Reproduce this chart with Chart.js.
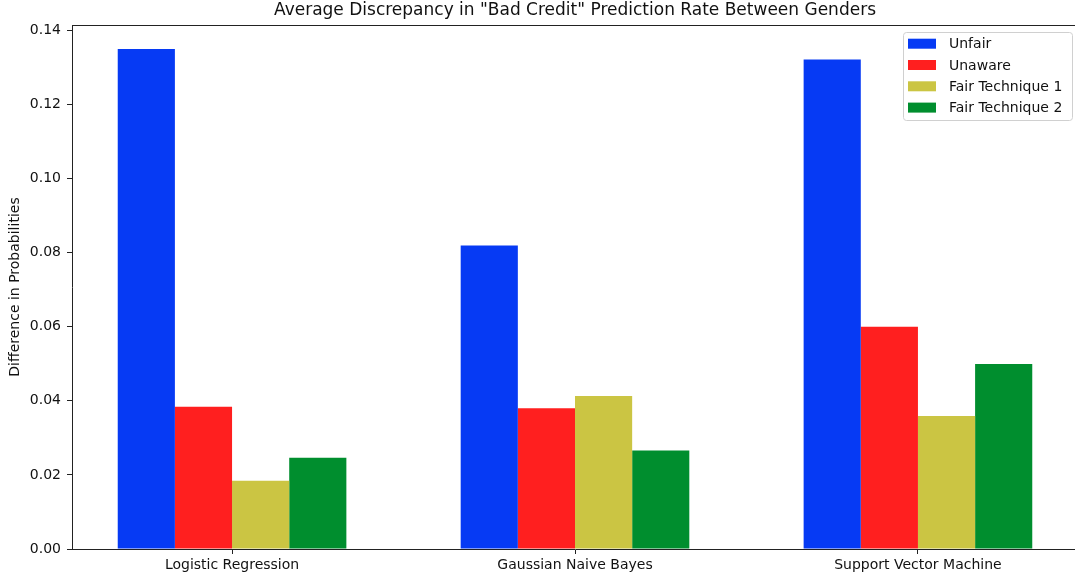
<!DOCTYPE html>
<html>
<head>
<meta charset="utf-8">
<script src="https://cdn.jsdelivr.net/npm/chart.js@4.4.1/dist/chart.umd.min.js"></script>
<style>
  html, body { margin: 0; padding: 0; background: #fff; overflow: hidden; }
  #wrap { position: relative; width: 1080px; height: 581px; }
</style>
</head>
<body>
<div id="wrap"><canvas id="chart"></canvas></div>
<script>
// data
const categories = ["Logistic Regression", "Gaussian Naive Bayes", "Support Vector Machine"];
const seriesNames = ["Unfair", "Unaware", "Fair Technique 1", "Fair Technique 2"];
const unfair   = [0.1349, 0.0819, 0.1321];
const unaware  = [0.0384, 0.0380, 0.0600];
const fairTech1 = [0.0184, 0.0413, 0.0359];
const fairTech2 = [0.0246, 0.0266, 0.0499];
const yTicks = [0, 0.02, 0.04, 0.06, 0.08, 0.10, 0.12, 0.14];
const titleText = 'Average Discrepancy in "Bad Credit" Prediction Rate Between Genders';

const colors = ["#063af4", "#ff1f1f", "#cbc543", "#008e2e"];
const FONT = "'DejaVu Sans', sans-serif";

const toPts = arr => arr.map((v, i) => ({ x: i, y: v }));
const datasets = [unfair, unaware, fairTech1, fairTech2].map((vals, i) => ({
  label: seriesNames[i],
  data: toPts(vals),
  backgroundColor: colors[i],
  borderWidth: 0,
  categoryPercentage: 2 / 3,
  barPercentage: 1
}));

// matplotlib-like bits: title over the axes, top spine, legend box
const mplBits = {
  id: "mplBits",
  afterDraw(chart) {
    const { ctx, chartArea } = chart;
    ctx.save();
    ctx.fillStyle = "#111";
    ctx.font = "17px " + FONT;
    ctx.textAlign = "center";
    ctx.textBaseline = "middle";
    ctx.fillText(titleText, (chartArea.left + chartArea.right) / 2, 11);

    ctx.strokeStyle = "#222";
    ctx.lineWidth = 1;
    ctx.beginPath();
    ctx.moveTo(chartArea.left, chartArea.top + 0.5);
    ctx.lineTo(chartArea.right, chartArea.top + 0.5);
    ctx.stroke();

    const bx = 903, by = 32.5, bw = 169, bh = 88;
    ctx.fillStyle = "rgba(255,255,255,0.8)";
    ctx.strokeStyle = "#d0d0d0";
    ctx.beginPath();
    ctx.roundRect(bx + 0.5, by, bw, bh, 3);
    ctx.fill();
    ctx.stroke();

    ctx.font = "14px " + FONT;
    ctx.textAlign = "left";
    chart.data.datasets.forEach((ds, i) => {
      const cy = 43.7 + i * 21.3;
      ctx.fillStyle = ds.backgroundColor;
      ctx.fillRect(908, cy - 5, 28, 10);
      ctx.fillStyle = "#111";
      ctx.fillText(ds.label, 949, cy + 1);
    });
    ctx.restore();
  }
};

new Chart(document.getElementById("chart"), {
  type: "bar",
  data: { datasets },
  plugins: [mplBits],
  options: {
    responsive: true,
    maintainAspectRatio: false,
    animation: false,
    layout: { padding: { top: 25, right: 2, left: 0, bottom: 0 } },
    plugins: {
      legend: { display: false },
      tooltip: { enabled: false },
      title: { display: false }
    },
    scales: {
      x: {
        type: "linear",
        min: -0.4667,
        max: 2.4667,
        offset: false,
        afterBuildTicks: s => { s.ticks = categories.map((_, i) => ({ value: i })); },
        afterFit: s => { s.height = 32; },
        ticks: {
          callback: v => categories[v] ?? "",
          color: "#111",
          font: { family: FONT, size: 14 },
          padding: 3,
          maxRotation: 0,
          autoSkip: false
        },
        grid: { display: true, offset: false, drawOnChartArea: false, drawTicks: true, tickLength: 5, color: "#222" },
        border: { display: true, color: "#222", width: 1 }
      },
      y: {
        min: 0,
        max: 0.1414,
        afterBuildTicks: s => { s.ticks = yTicks.map(v => ({ value: v })); },
        afterFit: s => { s.width = 72; },
        ticks: {
          callback: v => v.toFixed(2),
          color: "#111",
          font: { family: FONT, size: 14 },
          padding: 6
        },
        grid: { display: true, drawOnChartArea: false, drawTicks: true, tickLength: 5, color: "#222" },
        border: { display: true, color: "#222", width: 1 },
        title: {
          display: true,
          text: "Difference in Probabilities",
          color: "#111",
          font: { family: FONT, size: 14 },
          padding: { top: 7, bottom: 0 }
        }
      }
    }
  }
});
</script>
</body>
</html>
